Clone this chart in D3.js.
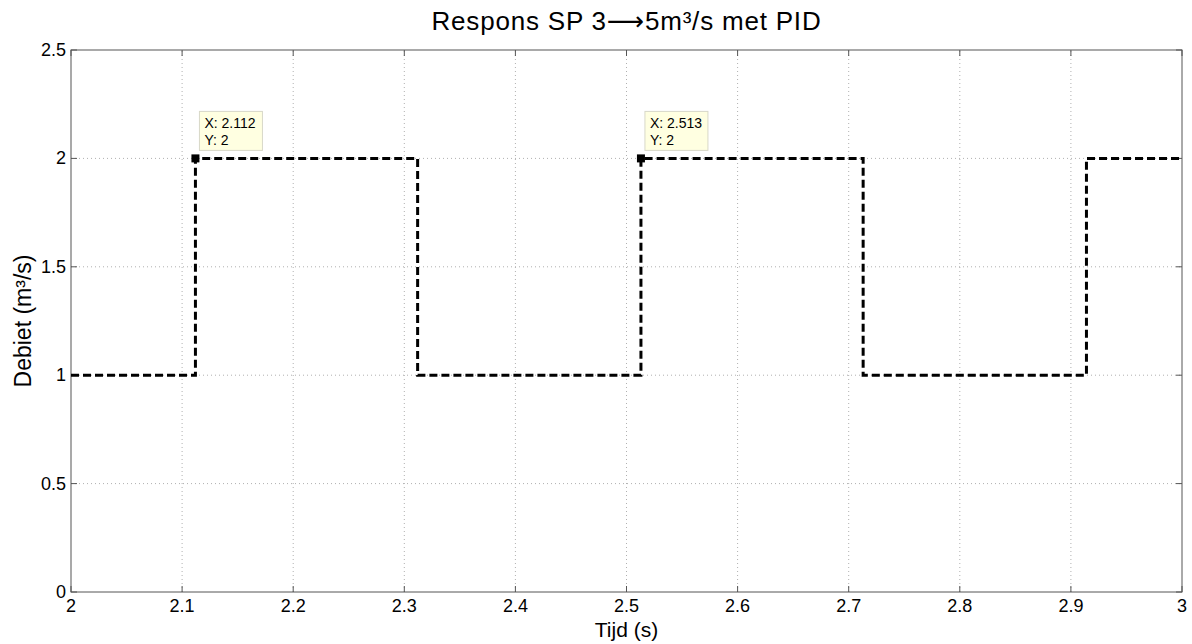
<!DOCTYPE html>
<html>
<head>
<meta charset="utf-8">
<script src="https://cdn.jsdelivr.net/npm/d3@7"></script>
<style>
  body { margin: 0; background: #fff; }
  svg { font-family: "Liberation Sans", Arial, sans-serif; }
  .grid line { stroke: #b0b0b0; stroke-dasharray: 1 3; stroke-width: 1; }
  .tick-label { font-size: 18px; fill: #000; }
</style>
</head>
<body>
<svg id="chart" width="1192" height="644"></svg>
<script>
  // step signal: times where value switches, and value after each switch
  const edgeTimes = [2.0, 2.112, 2.312, 2.513, 2.713, 2.914, 3.0];
  const edgeValues = [1, 2, 1, 2, 1, 2, 2];
  const xTicks = [2, 2.1, 2.2, 2.3, 2.4, 2.5, 2.6, 2.7, 2.8, 2.9, 3];
  const yTicks = [0, 0.5, 1, 1.5, 2, 2.5];
  const dataTips = [
    { x: 2.112, y: 2 },
    { x: 2.513, y: 2 }
  ];

  const margin = { left: 71, right: 10, top: 50, bottom: 52 };
  const W = 1192, H = 644;
  const svg = d3.select("#chart");

  const x = d3.scaleLinear().domain([2, 3]).range([margin.left, W - margin.right]);
  const y = d3.scaleLinear().domain([0, 2.5]).range([H - margin.bottom, margin.top]);

  // grid
  const grid = svg.append("g").attr("class", "grid");
  grid.selectAll(".gx").data(xTicks.slice(1, -1)).join("line")
    .attr("x1", d => x(d)).attr("x2", d => x(d))
    .attr("y1", y(0)).attr("y2", y(2.5));
  grid.selectAll(".gy").data(yTicks.slice(1, -1)).join("line")
    .attr("x1", x(2)).attr("x2", x(3))
    .attr("y1", d => y(d)).attr("y2", d => y(d));

  // box
  svg.append("rect")
    .attr("x", x(2)).attr("y", y(2.5))
    .attr("width", x(3) - x(2)).attr("height", y(0) - y(2.5))
    .attr("fill", "none").attr("stroke", "#555").attr("stroke-width", 1);

  // ticks (inward)
  const tk = svg.append("g").attr("stroke", "#555");
  xTicks.forEach(t => {
    tk.append("line").attr("x1", x(t)).attr("x2", x(t)).attr("y1", y(0)).attr("y2", y(0) - 6);
    tk.append("line").attr("x1", x(t)).attr("x2", x(t)).attr("y1", y(2.5)).attr("y2", y(2.5) + 6);
  });
  yTicks.forEach(t => {
    tk.append("line").attr("x1", x(2)).attr("x2", x(2) + 6).attr("y1", y(t)).attr("y2", y(t));
    tk.append("line").attr("x1", x(3)).attr("x2", x(3) - 6).attr("y1", y(t)).attr("y2", y(t));
  });

  svg.selectAll(".xl").data(xTicks).join("text")
    .attr("class", "tick-label")
    .attr("x", d => x(d)).attr("y", y(0) + 20)
    .attr("text-anchor", "middle")
    .text(d => d3.format("~g")(d));
  svg.selectAll(".yl").data(yTicks).join("text")
    .attr("class", "tick-label")
    .attr("x", x(2) - 5).attr("y", d => y(d) + 6)
    .attr("text-anchor", "end")
    .text(d => d3.format("~g")(d));

  // signal line
  const pts = edgeTimes.map((t, i) => ({ t, v: edgeValues[i] }));
  const line = d3.line().x(d => x(d.t)).y(d => y(d.v)).curve(d3.curveStepAfter);
  svg.append("path")
    .datum(pts)
    .attr("d", line)
    .attr("fill", "none")
    .attr("stroke", "#000")
    .attr("stroke-width", 3)
    .attr("stroke-dasharray", "8 4");

  // data tips
  dataTips.forEach(d => {
    const px = x(d.x), py = y(d.y);
    const g = svg.append("g");
    g.append("rect")
      .attr("x", px + 4).attr("y", py - 47)
      .attr("width", 63).attr("height", 39)
      .attr("fill", "#ffffe1").attr("stroke", "#d8d8c8");
    g.append("text").attr("x", px + 9).attr("y", py - 30)
      .attr("font-size", 14).text("X: " + d.x);
    g.append("text").attr("x", px + 9).attr("y", py - 13)
      .attr("font-size", 14).text("Y: " + d.y);
    g.append("rect")
      .attr("x", px - 4).attr("y", py - 4)
      .attr("width", 8).attr("height", 8)
      .attr("fill", "#000");
  });

  // titles
  const mid = (x(2) + x(3)) / 2;
  const title = svg.append("text")
    .attr("x", mid).attr("y", 30)
    .attr("text-anchor", "middle").attr("font-size", 26)
    .attr("letter-spacing", 0.8);
  title.append("tspan").text("Respons SP 3");
  title.append("tspan").attr("font-family", "DejaVu Sans").text("\u27f6");
  title.append("tspan").text("5m\u00b3/s met PID");
  svg.append("text")
    .attr("x", mid).attr("y", 637)
    .attr("text-anchor", "middle").attr("font-size", 21)
    .text("Tijd (s)");
  svg.append("text")
    .attr("transform", `translate(31, ${(y(0) + y(2.5)) / 2}) rotate(-90)`)
    .attr("text-anchor", "middle").attr("font-size", 23)
    .text("Debiet (m\u00b3/s)");
</script>
</body>
</html>
